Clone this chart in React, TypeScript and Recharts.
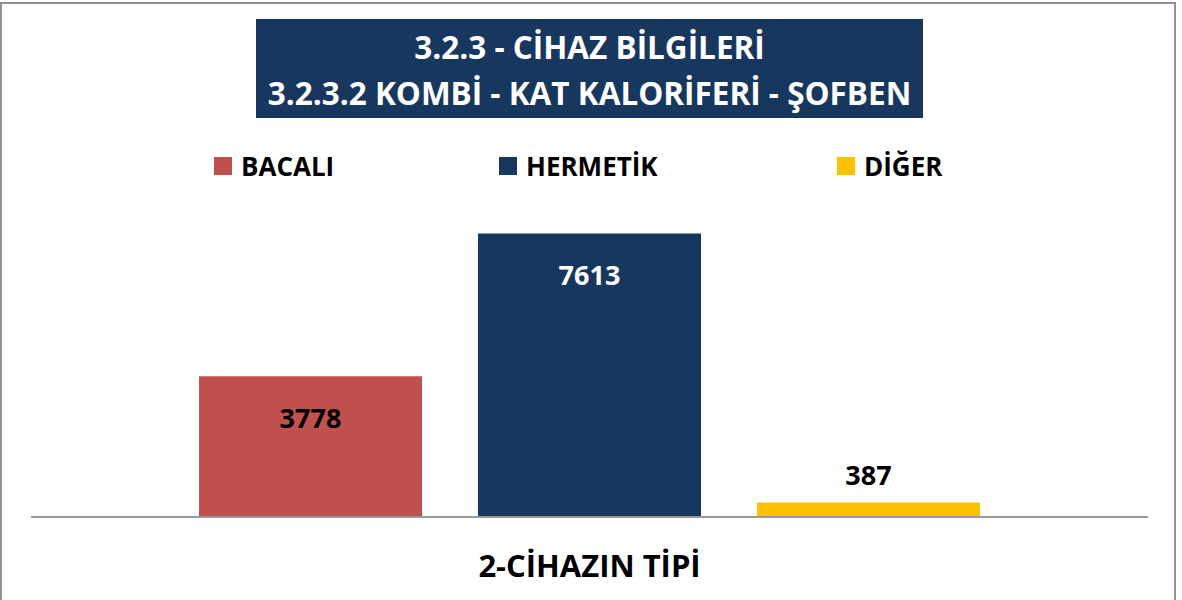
import React from "react";
import { Bar, BarChart, LabelList, XAxis, YAxis } from "recharts";

const category = "2-CİHAZIN TİPİ";
const seriesNames = ["BACALI", "HERMETİK", "DİĞER"];
const seriesValues = [3778, 7613, 387];
const titleLines = ["3.2.3 - CİHAZ BİLGİLERİ", "3.2.3.2 KOMBİ - KAT KALORİFERİ - ŞOFBEN"];

const colors = ["#C0504D", "#17375E", "#FFC000"];
const labelColors = ["#000000", "#FFFFFF", "#000000"];
const legendLeft = [214, 499, 837];
const font = "'Open Sans', 'Noto Sans', sans-serif";

const row: Record<string, string | number> = { name: category };
seriesNames.forEach((s, i) => {
  row[s] = seriesValues[i];
});
const data = [row];

function makeLabel(color: string) {
  return (props: any) => {
    const { x, y, width, height, value } = props;
    const inside = height > 60;
    const cy = inside ? y + 41 : y - 28;
    return (
      <text
        x={x + width / 2}
        y={cy}
        textAnchor="middle"
        dominantBaseline="central"
        fill={inside ? color : "#000000"}
        fontFamily={font}
        fontWeight={700}
        fontSize={27}
      >
        {value}
      </text>
    );
  };
}

function AxisTitle(props: any) {
  const { viewBox } = props;
  return (
    <text
      x={viewBox.x + viewBox.width / 2}
      y={viewBox.y + 48}
      textAnchor="middle"
      dominantBaseline="central"
      fill="#000000"
      fontFamily={font}
      fontWeight={700}
      fontSize={31}
    >
      {category}
    </text>
  );
}

export default function App() {
  return (
    <div
      style={{
        position: "absolute",
        left: 0,
        top: 0,
        width: 1182,
        height: 600,
        overflow: "hidden",
        background: "#fff",
        fontFamily: font,
      }}
    >
      <div
        style={{
          position: "absolute",
          left: 0,
          top: 2,
          width: 1176,
          height: 640,
          border: "2px solid #929292",
          boxSizing: "border-box",
        }}
      />
      <div
        style={{
          position: "absolute",
          left: 256,
          top: 19,
          width: 667,
          height: 99,
          background: "#17375E",
          color: "#fff",
          fontWeight: 700,
          fontSize: 31.5,
          lineHeight: "46px",
          display: "flex",
          flexDirection: "column",
          alignItems: "center",
          justifyContent: "center",
          paddingTop: 3,
          boxSizing: "border-box",
          whiteSpace: "nowrap",
        }}
      >
        {titleLines.map((t) => (
          <div key={t}>{t}</div>
        ))}
      </div>
      {seriesNames.map((s, i) => (
        <div
          key={s}
          style={{
            position: "absolute",
            left: legendLeft[i],
            top: 148,
            display: "flex",
            alignItems: "center",
            fontWeight: 700,
            fontSize: 26,
            whiteSpace: "nowrap",
          }}
        >
          <span
            style={{
              display: "inline-block",
              width: 18,
              height: 18,
              background: colors[i],
              marginRight: 9,
            }}
          />
          <span style={{ lineHeight: "36px" }}>{s}</span>
        </div>
      ))}
      <div style={{ position: "absolute", left: 0, top: 0 }}>
        <BarChart
          width={1182}
          height={600}
          data={data}
          margin={{ top: 219, right: 34, bottom: 23, left: 31 }}
          barGap={56}
        >
          <YAxis hide domain={[0, 8000]} />
          <XAxis
            dataKey="name"
            tick={false}
            tickLine={false}
            height={60}
            axisLine={{ stroke: "#999999", strokeWidth: 2 }}
            label={<AxisTitle />}
          />
          {seriesNames.map((s, i) => (
            <Bar
              key={s}
              dataKey={s}
              fill={colors[i]}
              barSize={223}
              isAnimationActive={false}
            >
              <LabelList dataKey={s} content={makeLabel(labelColors[i])} />
            </Bar>
          ))}
        </BarChart>
      </div>
    </div>
  );
}
